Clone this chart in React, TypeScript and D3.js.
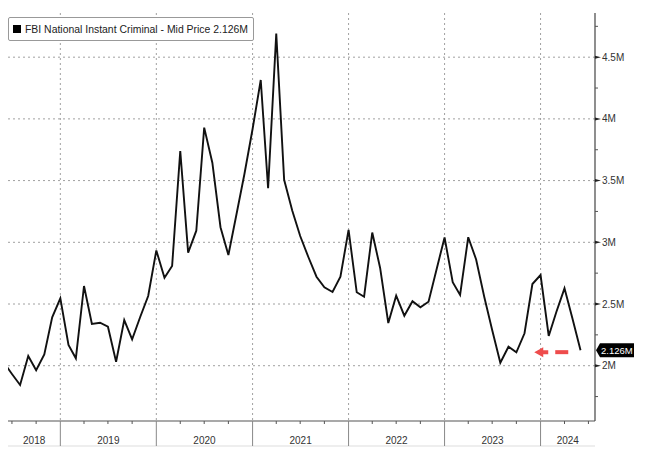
import * as d3 from 'd3';
import React, { useEffect, useRef } from 'react';

// monthly checks, millions, Jun 2018 .. Jun 2024
const firstMonth = new Date(2018, 5, 1);
const checks = [
  2.022, 1.933, 1.844, 2.079, 1.963, 2.092, 2.392,
  2.546, 2.168, 2.06, 2.646, 2.338, 2.348, 2.316, 2.032, 2.37, 2.214, 2.397, 2.565,
  2.934, 2.712, 2.808, 3.74, 2.916, 3.094, 3.929, 3.645, 3.122, 2.897, 3.229, 3.553,
  3.918, 4.315, 3.438, 4.692, 3.507, 3.255, 3.051, 2.881, 2.721, 2.635, 2.597, 2.721,
  3.1, 2.595, 2.559, 3.079, 2.792, 2.346, 2.567, 2.405, 2.522, 2.473, 2.519, 2.776,
  3.039, 2.676, 2.573, 3.041, 2.861, 2.557, 2.289, 2.024, 2.154, 2.109, 2.263, 2.662,
  2.735, 2.241, 2.435, 2.627, 2.384, 2.126,
];
const majorTicks = [2, 2.5, 3, 3.5, 4, 4.5];
const tickLabels = ['2M', '2.5M', '3M', '3.5M', '4M', '4.5M'];
const minorTicks = [1.75, 2.25, 2.75, 3.25, 3.75, 4.25, 4.75];
const years = [2018, 2019, 2020, 2021, 2022, 2023, 2024];
const seriesName = 'FBI National Instant Criminal - Mid Price 2.126M';
const lastLabel = '2.126M';

const App: React.FC = () => {
  const svgRef = useRef<SVGSVGElement | null>(null);

  useEffect(() => {
    if (!svgRef.current) return;
    const svg = d3.select(svgRef.current);
    svg.selectAll('*').remove();

    const left = 8, right = 595, top = 13, bottom = 421;
    const font = 'Liberation Sans, Arial, sans-serif';

    const x = d3.scaleTime()
      .domain([new Date(2018, 5, 16), new Date(2024, 6, 26)])
      .range([left, right]);
    const y = d3.scaleLinear().domain([1.552, 4.858]).range([bottom, top]);

    const data = checks.map((v, i) => ({ date: d3.timeMonth.offset(firstMonth, i), v }));

    svg.append('rect').attr('width', 645).attr('height', 460).attr('fill', '#fff');

    // grid
    svg.append('g')
      .selectAll('line')
      .data(majorTicks)
      .enter()
      .append('line')
      .attr('x1', left).attr('x2', right)
      .attr('y1', (d) => y(d)).attr('y2', (d) => y(d))
      .attr('stroke', '#a0a0a0').attr('stroke-width', 1)
      .attr('stroke-dasharray', '2,3');

    const yearStarts = years.slice(1).map((yr) => new Date(yr, 0, 1));
    svg.append('g')
      .selectAll('line')
      .data(yearStarts)
      .enter()
      .append('line')
      .attr('x1', (d) => x(d)).attr('x2', (d) => x(d))
      .attr('y1', top).attr('y2', bottom)
      .attr('stroke', '#a0a0a0').attr('stroke-width', 1)
      .attr('stroke-dasharray', '2,3');

    // series
    svg.append('clipPath').attr('id', 'plot-clip')
      .append('rect')
      .attr('x', left).attr('y', top).attr('width', right - left).attr('height', bottom - top);

    const line = d3.line<{ date: Date; v: number }>()
      .x((d) => x(d.date))
      .y((d) => y(d.v));

    svg.append('path')
      .datum(data)
      .attr('clip-path', 'url(#plot-clip)')
      .attr('d', line)
      .attr('fill', 'none')
      .attr('stroke', '#111')
      .attr('stroke-width', 1.9)
      .attr('stroke-linejoin', 'miter');

    // x axis
    svg.append('line')
      .attr('x1', left).attr('x2', right).attr('y1', bottom).attr('y2', bottom)
      .attr('stroke', '#555').attr('stroke-width', 1.2);
    svg.append('line')
      .attr('x1', left).attr('x2', right).attr('y1', 446).attr('y2', 446)
      .attr('stroke', '#ddd').attr('stroke-width', 1);

    const quarters = d3.timeMonth.every(3)!.range(x.domain()[0], x.domain()[1])
      .filter((d) => d.getMonth() !== 0);
    svg.append('g')
      .selectAll('line')
      .data(quarters)
      .enter()
      .append('line')
      .attr('x1', (d) => x(d)).attr('x2', (d) => x(d))
      .attr('y1', bottom).attr('y2', bottom + 3)
      .attr('stroke', '#555');

    svg.append('g')
      .selectAll('line')
      .data(yearStarts)
      .enter()
      .append('line')
      .attr('x1', (d) => x(d)).attr('x2', (d) => x(d))
      .attr('y1', bottom).attr('y2', 446)
      .attr('stroke', '#888');

    svg.append('g')
      .selectAll('text')
      .data(years)
      .enter()
      .append('text')
      .attr('x', (d) => {
        const a = Math.max(left, x(new Date(d, 0, 1)));
        const b = Math.min(right, x(new Date(d + 1, 0, 1)));
        return (a + b) / 2;
      })
      .attr('y', 444)
      .attr('text-anchor', 'middle')
      .attr('font-family', font)
      .attr('font-size', 10)
      .attr('fill', '#333')
      .text((d) => d);

    // y axis (right)
    svg.append('line')
      .attr('x1', right).attr('x2', right).attr('y1', top).attr('y2', bottom)
      .attr('stroke', '#444').attr('stroke-width', 1.2);

    svg.append('g')
      .selectAll('line')
      .data(minorTicks)
      .enter()
      .append('line')
      .attr('x1', right).attr('x2', right + 3)
      .attr('y1', (d) => y(d)).attr('y2', (d) => y(d))
      .attr('stroke', '#555');

    const major = svg.append('g');
    major.selectAll('path')
      .data(majorTicks)
      .enter()
      .append('path')
      .attr('d', (d) => `M${right},${y(d) - 1.5}L${right + 6},${y(d)}L${right},${y(d) + 1.5}Z`)
      .attr('fill', '#222');
    major.selectAll('text')
      .data(majorTicks)
      .enter()
      .append('text')
      .attr('x', right + 7)
      .attr('y', (d) => y(d) + 3.5)
      .attr('font-family', font)
      .attr('font-size', 10)
      .attr('fill', '#333')
      .text((d, i) => tickLabels[i]);

    // last value tag
    const last = data[data.length - 1];
    const ly = y(last.v);
    svg.append('path')
      .attr('d', `M${right + 1},${ly}L${right + 5},${ly - 7}L${right + 39},${ly - 7}L${right + 39},${ly + 7}L${right + 5},${ly + 7}Z`)
      .attr('fill', '#000');
    svg.append('text')
      .attr('x', right + 6)
      .attr('y', ly + 3.5)
      .attr('font-family', font)
      .attr('font-size', 9.5)
      .attr('fill', '#fff')
      .text(lastLabel);

    // red arrow annotation
    const ay = ly + 2;
    const ax = x(new Date(2023, 11, 8));
    svg.append('path')
      .attr('d', `M${ax},${ay}L${ax + 9},${ay - 5}L${ax + 9},${ay - 2}L${ax + 14},${ay - 2}L${ax + 14},${ay + 2}L${ax + 9},${ay + 2}L${ax + 9},${ay + 5}Z`)
      .attr('fill', '#ee4c4c');
    svg.append('rect')
      .attr('x', ax + 21).attr('y', ay - 2).attr('width', 13).attr('height', 4)
      .attr('fill', '#ee4c4c');

    // legend
    svg.append('rect')
      .attr('x', 8.5).attr('y', 17.5).attr('width', 245).attr('height', 23).attr('rx', 1.5)
      .attr('fill', '#fff').attr('stroke', '#999');
    svg.append('rect')
      .attr('x', 13).attr('y', 25).attr('width', 8).attr('height', 8)
      .attr('fill', '#000');
    svg.append('text')
      .attr('x', 25)
      .attr('y', 33)
      .attr('font-family', font)
      .attr('font-size', 10)
      .attr('fill', '#222')
      .attr('textLength', 223)
      .attr('lengthAdjust', 'spacingAndGlyphs')
      .text(seriesName);
  }, []);

  return (
    <svg
      ref={svgRef}
      width={645}
      height={460}
      style={{ position: 'absolute', left: 0, top: 0, display: 'block' }}
    />
  );
};

export default App;
